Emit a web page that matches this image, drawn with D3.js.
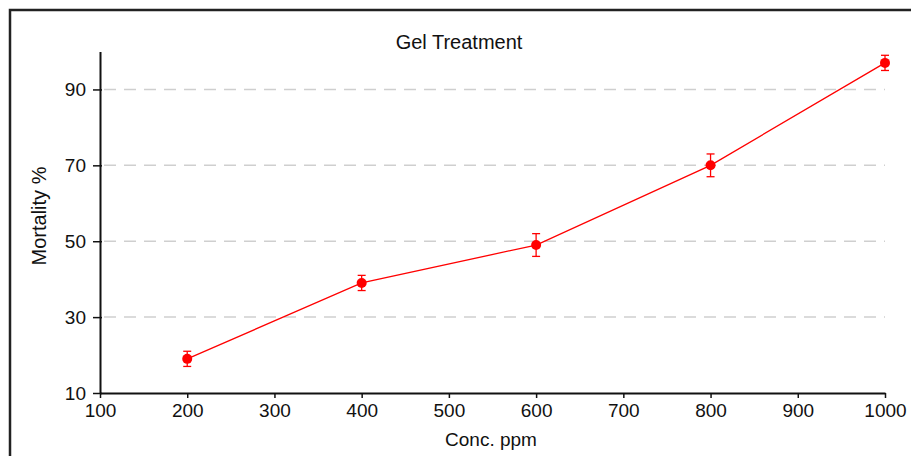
<!DOCTYPE html>
<html>
<head>
<meta charset="utf-8">
<script src="https://cdn.jsdelivr.net/npm/d3@7"></script>
<style>
  body { margin: 0; background: #fff; }
  text { font-family: "Liberation Sans", Arial, sans-serif; }
</style>
</head>
<body>
<div id="chart"></div>
<script>
// data
const conc = [200, 400, 600, 800, 1000];
const mortality = [19, 39, 49, 70, 97];
const errors = [2, 2, 3, 3, 2];
const xTicks = [100, 200, 300, 400, 500, 600, 700, 800, 900, 1000];
const yTicks = [10, 30, 50, 70, 90];

const width = 911, height = 456;
const margin = { top: 52, right: 26, bottom: 63, left: 100 };

const svg = d3.select("#chart")
  .append("svg")
  .attr("width", width)
  .attr("height", height);

// outer frame
svg.append("rect")
  .attr("x", 10).attr("y", 10)
  .attr("width", width + 20).attr("height", height + 20)
  .attr("fill", "none")
  .attr("stroke", "#222")
  .attr("stroke-width", 2.5);

const x = d3.scaleLinear().domain([100, 1000]).range([margin.left, width - margin.right]);
const y = d3.scaleLinear().domain([10, 100]).range([height - margin.bottom, margin.top - 0.5]);

// dashed gridlines
svg.append("g")
  .selectAll("line")
  .data(yTicks.filter(d => d > 10))
  .join("line")
  .attr("x1", x(100) + 4)
  .attr("x2", x(1000))
  .attr("y1", d => y(d))
  .attr("y2", d => y(d))
  .attr("stroke", "#cfcfcf")
  .attr("stroke-width", 1.5)
  .attr("stroke-dasharray", "12,8");

// x axis
const xAxis = svg.append("g")
  .attr("transform", "translate(0," + y(10) + ")")
  .call(d3.axisBottom(x).tickValues(xTicks).tickFormat(d3.format("d")).tickSize(5).tickSizeOuter(0));
xAxis.select(".domain").attr("stroke", "#111").attr("stroke-width", 2);
xAxis.selectAll(".tick line").attr("stroke", "#111").attr("stroke-width", 1.5);
xAxis.selectAll("text")
  .attr("font-size", 19).attr("fill", "#111").attr("dy", "0.71em").attr("y", 11);

// y axis
const yAxis = svg.append("g")
  .attr("transform", "translate(" + x(100) + ",0)")
  .call(d3.axisLeft(y).tickValues(yTicks).tickSize(7).tickSizeOuter(0));
yAxis.select(".domain").attr("stroke", "#111").attr("stroke-width", 2);
yAxis.selectAll(".tick line").attr("stroke", "#111").attr("stroke-width", 1.5).attr("x2", -7).attr("x1", 2);
yAxis.selectAll("text")
  .attr("font-size", 19).attr("fill", "#111").attr("x", -14);

// title and axis labels
svg.append("text")
  .text("Gel Treatment")
  .attr("x", 459).attr("y", 49)
  .attr("text-anchor", "middle")
  .attr("font-size", 20)
  .attr("fill", "#111");

svg.append("text")
  .text("Conc. ppm")
  .attr("x", 491).attr("y", 446)
  .attr("text-anchor", "middle")
  .attr("font-size", 19)
  .attr("fill", "#111");

svg.append("text")
  .text("Mortality %")
  .attr("transform", "translate(46," + 216 + ") rotate(-90)")
  .attr("text-anchor", "middle")
  .attr("font-size", 20)
  .attr("fill", "#111");

const pts = conc.map((c, i) => ({ c: c, m: mortality[i], e: errors[i] }));
const red = "#ff0000";

// line
svg.append("path")
  .datum(pts)
  .attr("fill", "none")
  .attr("stroke", red)
  .attr("stroke-width", 1.3)
  .attr("d", d3.line().x(d => x(d.c)).y(d => y(d.m)));

// error bars
const eb = svg.append("g").attr("stroke", red).attr("stroke-width", 1.3);
eb.selectAll(".v").data(pts).join("line")
  .attr("x1", d => x(d.c)).attr("x2", d => x(d.c))
  .attr("y1", d => y(d.m - d.e)).attr("y2", d => y(d.m + d.e));
eb.selectAll(".top").data(pts).join("line").attr("class", "top")
  .attr("x1", d => x(d.c) - 4).attr("x2", d => x(d.c) + 4)
  .attr("y1", d => y(d.m + d.e)).attr("y2", d => y(d.m + d.e));
eb.selectAll(".bot").data(pts).join("line").attr("class", "bot")
  .attr("x1", d => x(d.c) - 4).attr("x2", d => x(d.c) + 4)
  .attr("y1", d => y(d.m - d.e)).attr("y2", d => y(d.m - d.e));

// points
svg.append("g")
  .selectAll("circle")
  .data(pts)
  .join("circle")
  .attr("cx", d => x(d.c))
  .attr("cy", d => y(d.m))
  .attr("r", 5)
  .attr("fill", red);
</script>
</body>
</html>
